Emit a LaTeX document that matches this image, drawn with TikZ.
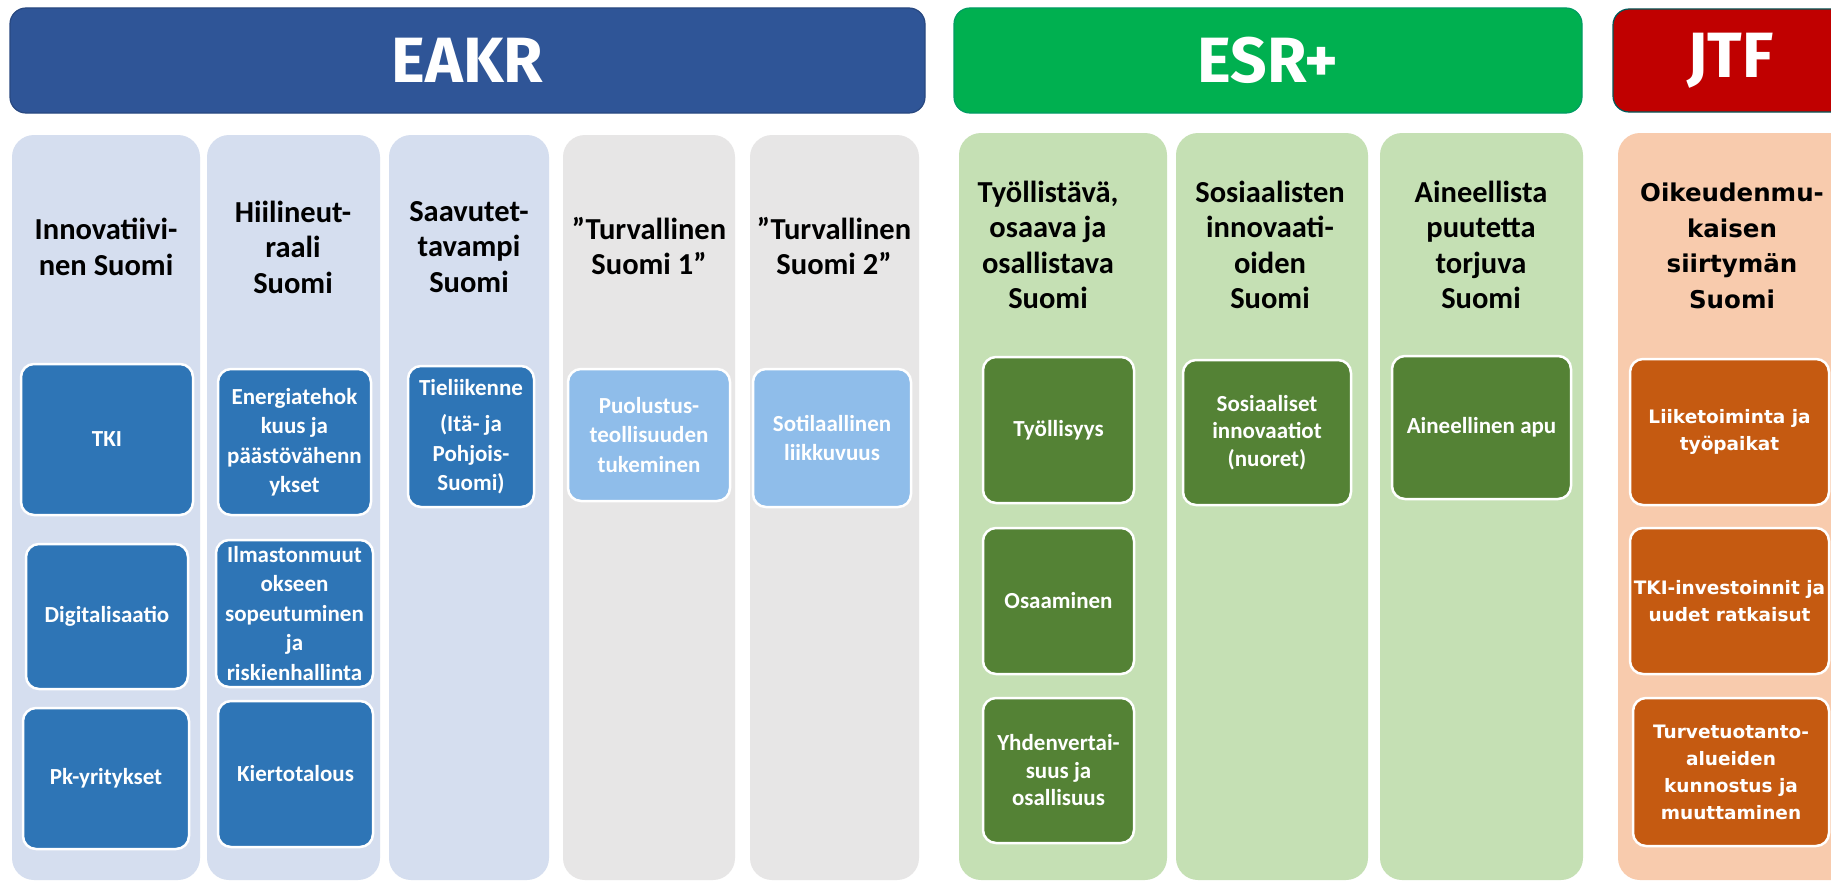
\documentclass[tikz,border=0pt]{standalone}
\usepackage{fontspec}
\setmainfont{Carlito}
\newfontfamily\hdfont{Fira Sans}
\newfontfamily\vfont{DejaVu Sans}
\definecolor{eakrblue}{HTML}{2F5597}
\definecolor{esrgreen}{HTML}{00B050}
\definecolor{jtfred}{HTML}{C00000}
\definecolor{colblue}{HTML}{D5DEEF}
\definecolor{colgray}{HTML}{E7E6E6}
\definecolor{colgreen}{HTML}{C5E0B4}
\definecolor{colorange}{HTML}{F8CBAD}
\definecolor{boxblue}{HTML}{2E75B6}
\definecolor{boxlight}{HTML}{8FBDEA}
\definecolor{boxgreen}{HTML}{548235}
\definecolor{boxorange}{HTML}{C55A11}
\newcommand\rsbox[7]{%
  \node[#2, minimum width={(#5-#3)*1pt}, minimum height={(#6-#4)*1pt}]
    (#1) at ({(#3+#5)/2},{(#4+#6)/2}) {#7};}
\tikzset{
  hdr/.style={rounded corners=16pt, inner sep=0pt, text=white, line width=1.2pt,
    font=\hdfont\bfseries\fontsize{64}{70}\selectfont},
  colbg/.style={rounded corners=22pt, inner sep=0pt},
  subbox/.style={rounded corners=13pt, draw=white, line width=2.5pt, inner sep=2pt,
    align=center, text=white, font=\bfseries\fontsize{23}{29.5}\selectfont},
  gbox/.style={subbox, font=\bfseries\fontsize{23}{27.5}\selectfont},
  obox/.style={subbox, font=\vfont\bfseries\fontsize{18.5}{27}\selectfont},
  coltitle/.style={align=center, inner sep=0pt, text=black,
    font=\bfseries\fontsize{30.5}{35.5}\selectfont},
  otitle/.style={coltitle, font=\vfont\bfseries\fontsize{24.5}{35.5}\selectfont},
}
\begin{document}
\begin{tikzpicture}[x=1pt,y=-1pt]
\useasboundingbox (0,0) rectangle (1831,883);
\clip (0,0) rectangle (1831,883);
\fill[white] (0,0) rectangle (1831,883);
% headers
\rsbox{eakr}{hdr, fill=eakrblue, draw=eakrblue!85!black}{10}{8}{925}{113}{EAKR}
\rsbox{esr}{hdr, fill=esrgreen, draw=esrgreen!60!teal}{954}{8}{1582}{113}{ESR+}
\rsbox{jtf}{hdr, fill=jtfred, draw=teal!70!black}{1613}{9}{1848}{112}{JTF}
% columns
\rsbox{c1}{colbg, fill=colblue}{12}{135}{200}{880}{}
\rsbox{c2}{colbg, fill=colblue}{207}{135}{380}{880}{}
\rsbox{c3}{colbg, fill=colblue}{389}{135}{549}{880}{}
\rsbox{c4}{colbg, fill=colgray}{563}{135}{735}{880}{}
\rsbox{c5}{colbg, fill=colgray}{750}{135}{919}{880}{}
\rsbox{c6}{colbg, fill=colgreen}{959}{133}{1167}{880}{}
\rsbox{c7}{colbg, fill=colgreen}{1176}{133}{1368}{880}{}
\rsbox{c8}{colbg, fill=colgreen}{1380}{133}{1583}{880}{}
\rsbox{c9}{colbg, fill=colorange}{1618}{133}{1870}{880}{}
% titles
\node[coltitle] (t1) at (106,247) {Innovatiivi-\\nen Suomi};
\node[coltitle] (t2) at (293,247) {Hiilineut-\\raali\\Suomi};
\node[coltitle] (t3) at (469,247) {Saavutet-\\tavampi\\Suomi};
\node[coltitle] (t4) at (649,246) {”Turvallinen\\Suomi 1”};
\node[coltitle] (t5) at (834,246) {”Turvallinen\\Suomi 2”};
\node[coltitle] (t6) at (1048,245) {Työllistävä,\\osaava ja\\osallistava\\Suomi};
\node[coltitle] (t7) at (1270,245) {Sosiaalisten\\innovaati-\\oiden\\Suomi};
\node[coltitle] (t8) at (1481,245) {Aineellista\\puutetta\\torjuva\\Suomi};
\node[otitle] (t9) at (1732,246) {Oikeudenmu-\\kaisen\\siirtymän\\Suomi};
% boxes
\rsbox{tki}{subbox, fill=boxblue}{21}{364}{193}{515}{TKI}
\rsbox{digi}{subbox, fill=boxblue}{26}{544}{188}{689}{Digitalisaatio}
\rsbox{pk}{subbox, fill=boxblue}{23}{708}{189}{849}{Pk-yritykset}
\rsbox{ener}{subbox, fill=boxblue}{218}{369}{371}{515}{Energiatehok\\kuus ja\\päästövähenn\\ykset}
\rsbox{ilma}{subbox, fill=boxblue}{216}{540}{373}{687}{Ilmastonmuut\\okseen\\sopeutuminen\\ja\\riskienhallinta}
\rsbox{kier}{subbox, fill=boxblue}{218}{701}{373}{847}{Kiertotalous}
\rsbox{tie}{subbox, fill=boxblue}{408}{366}{534}{507}{Tieliikenne\\[7pt](Itä- ja\\Pohjois-\\Suomi)}
\rsbox{puol}{subbox, fill=boxlight}{568}{369}{730}{501}{Puolustus-\\teollisuuden\\tukeminen}
\rsbox{soti}{subbox, fill=boxlight}{753}{369}{911}{507}{Sotilaallinen\\liikkuvuus}
\rsbox{tyol}{gbox, fill=boxgreen}{983}{357}{1134}{503}{Työllisyys}
\rsbox{osaa}{gbox, fill=boxgreen}{983}{528}{1134}{674}{Osaaminen}
\rsbox{yhde}{gbox, fill=boxgreen}{983}{698}{1134}{843}{Yhdenvertai-\\suus ja\\osallisuus}
\rsbox{sosi}{gbox, fill=boxgreen}{1183}{360}{1351}{505}{Sosiaaliset\\innovaatiot\\(nuoret)}
\rsbox{aine}{gbox, fill=boxgreen}{1392}{356}{1571}{499}{Aineellinen apu}
\rsbox{liik}{obox, fill=boxorange}{1630}{359}{1829}{505}{Liiketoiminta ja\\työpaikat}
\rsbox{tkii}{obox, fill=boxorange}{1630}{528}{1829}{674}{TKI-investoinnit ja\\uudet ratkaisut}
\rsbox{turv}{obox, fill=boxorange}{1633}{698}{1829}{846}{Turvetuotanto-\\alueiden\\kunnostus ja\\muuttaminen}
\end{tikzpicture}
\end{document}
